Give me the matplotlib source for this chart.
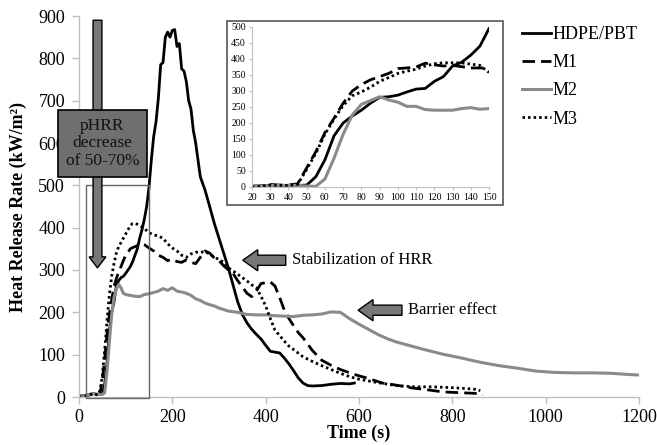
import matplotlib
matplotlib.use("Agg")
import matplotlib.pyplot as plt
import matplotlib.patches as mpatches
from matplotlib.lines import Line2D

plt.rcParams['font.family'] = ['Liberation Serif', 'DejaVu Serif']

# ---------------- main data ----------------
t_hdpe = [0, 10, 20, 30, 40, 50, 55, 60, 65, 70, 75, 80, 85, 90, 95, 100, 105, 110, 115, 120,
          125, 130, 135, 140, 145, 150, 155, 160, 165, 170, 175, 180, 185, 190, 195, 200, 205,
          210, 215, 220, 225, 230, 235, 240, 245, 250, 255, 260, 270, 280, 290, 300, 310, 320,
          330, 340, 350, 360, 370, 380, 390, 400, 410, 420, 430, 440, 450, 460, 470, 480, 490,
          500, 520, 540, 560, 580, 590]
hrr_hdpe = [2, 3, 4, 8, 6, 8, 30, 80, 155, 200, 225, 262, 275, 282, 285, 292, 300, 308, 320, 335,
            350, 375, 395, 420, 450, 495, 560, 615, 650, 705, 785, 790, 850, 862, 850, 866, 868,
            828, 835, 775, 770, 745, 700, 680, 630, 600, 560, 520, 489, 450, 410, 375, 340, 305,
            265, 225, 195, 175, 160, 148, 137, 122, 108, 106, 104, 92, 78, 62, 45, 33, 27,
            26, 27, 30, 32, 31, 33]

t_m1 = [0, 10, 20, 30, 40, 45, 50, 55, 60, 65, 70, 75, 80, 85, 90, 95, 100, 105, 110, 115, 120,
        125, 130, 135, 140, 150, 160, 170, 180, 190, 200, 210, 220, 230, 240, 250, 260, 270, 280,
        290, 300, 310, 320, 330, 340, 350, 360, 370, 380, 390, 400, 410, 420, 430, 440, 450, 460,
        470, 480, 490, 500, 520, 540, 560, 580, 600, 620, 650, 680, 710, 740, 780, 820, 860, 865]
hrr_m1 = [2, 3, 5, 8, 6, 8, 40, 90, 150, 195, 230, 260, 280, 295, 308, 322, 335, 342, 350, 353, 355,
          358, 362, 362, 360, 352, 345, 335, 330, 322, 326, 320, 318, 324, 318, 315, 330, 345, 340,
          328, 322, 310, 300, 292, 275, 260, 245, 237, 250, 268, 270, 272, 262, 235, 205, 185, 168,
          152, 140, 125, 110, 87, 75, 65, 57, 50, 44, 33, 28, 22, 18, 12, 10, 8, 5]

t_m2 = [0, 10, 20, 30, 40, 50, 55, 60, 65, 70, 75, 80, 85, 90, 95, 100, 110, 120, 130, 140, 150,
        160, 170, 180, 190, 200, 210, 220, 230, 240, 250, 260, 270, 280, 290, 300, 320, 340, 360,
        380, 400, 420, 440, 460, 480, 500, 520, 540, 560, 580, 600, 620, 640, 660, 680, 700, 740,
        780, 820, 860, 900, 940, 980, 1020, 1060, 1100, 1140, 1180, 1200]
hrr_m2 = [2, 3, 5, 8, 6, 6, 10, 60, 130, 195, 235, 255, 266, 258, 245, 242, 240, 238, 237, 242, 244,
          247, 250, 256, 252, 258, 250, 248, 245, 240, 232, 228, 222, 218, 215, 210, 203, 200, 195,
          194, 194, 192, 191, 190, 193, 194, 196, 201, 200, 185, 172, 160, 148, 138, 130, 124, 112,
          101, 92, 82, 74, 68, 61, 58, 57, 57, 56, 53, 52]

t_m3 = [0, 10, 20, 30, 40, 45, 50, 55, 60, 65, 70, 75, 80, 85, 90, 95, 100, 105, 110, 115, 120,
        125, 130, 140, 150, 160, 170, 180, 190, 200, 210, 220, 230, 240, 250, 260, 270, 280, 290,
        300, 310, 320, 330, 340, 350, 360, 370, 380, 390, 400, 410, 420, 430, 440, 450, 460, 480,
        500, 520, 540, 560, 580, 600, 640, 680, 720, 760, 800, 830, 850, 860]
hrr_m3 = [0, 2, 4, 8, 5, 15, 50, 110, 180, 240, 285, 315, 340, 355, 365, 375, 385, 395, 405, 410, 410,
          408, 405, 398, 388, 383, 380, 375, 362, 352, 345, 335, 330, 338, 342, 342, 343, 338, 330,
          325, 318, 305, 298, 290, 282, 274, 265, 258, 238, 215, 185, 158, 145, 132, 120, 112, 95,
          84, 74, 65, 56, 48, 42, 34, 27, 24, 24, 22, 20, 18, 15]

# ---------------- inset data ----------------
t_in = [20, 25, 30, 35, 40, 45, 50, 55, 60, 65, 70, 75, 80, 85, 90, 95, 100, 105, 110, 115, 120,
        125, 130, 135, 140, 145, 150]
hdpe_in = [3, 3, 6, 5, 5, 5, 6, 32, 85, 160, 200, 222, 240, 262, 280, 282, 287, 297, 306, 308, 330,
           345, 378, 390, 412, 440, 495]
m1_in = [2, 3, 8, 6, 6, 10, 60, 110, 170, 215, 262, 300, 320, 335, 345, 355, 370, 372, 375, 387, 382,
         378, 380, 376, 372, 372, 372]
m2_in = [2, 2, 5, 5, 5, 5, 3, 2, 25, 90, 165, 225, 258, 270, 282, 272, 265, 252, 252, 242, 240,
         240, 240, 245, 248, 243, 245]
m3_in = [0, 2, 6, 5, 5, 8, 55, 105, 165, 212, 255, 285, 297, 312, 330, 342, 355, 362, 368, 378, 385,
         388, 388, 388, 384, 380, 358]

labels = ['HDPE/PBT', 'M1', 'M2', 'M3']
x_ticks = [0, 200, 400, 600, 800, 1000, 1200]
y_ticks = [0, 100, 200, 300, 400, 500, 600, 700, 800, 900]
xin_ticks = [20, 30, 40, 50, 60, 70, 80, 90, 100, 110, 120, 130, 140, 150]
yin_ticks = [0, 50, 100, 150, 200, 250, 300, 350, 400, 450, 500]

GRAY = '#8a8a8a'
SPINE = '#bfbfbf'
ARROW = '#777777'

styles = [
    dict(color='black', lw=2.0, ls='-'),
    dict(color='black', lw=2.0, ls=(0, (4.5, 2.2))),
    dict(color=GRAY, lw=2.2, ls='-'),
    dict(color='black', lw=2.0, ls=(0, (0.9, 1.1))),
]

W, H = 657, 445
fig = plt.figure(figsize=(W / 100, H / 100), dpi=100)
ax = fig.add_axes([79 / W, 1 - 397 / H, (639 - 79) / W, (397 - 16) / H])

series = [(t_hdpe, hrr_hdpe), (t_m1, hrr_m1), (t_m2, hrr_m2), (t_m3, hrr_m3)]
for (t, h), st in zip(series, styles):
    ax.plot(t, h, color=st['color'], lw=st['lw'], ls=st['ls'], solid_joinstyle='round')

ax.set_xlim(0, 1200)
ax.set_ylim(0, 900)
ax.set_xticks(x_ticks)
ax.set_yticks(y_ticks)
ax.tick_params(axis='both', labelsize=13, color=SPINE, length=5, width=1)
ax.tick_params(axis='x', pad=4)
ax.tick_params(axis='y', pad=5)
for s in ['top', 'right']:
    ax.spines[s].set_visible(False)
for s in ['left', 'bottom']:
    ax.spines[s].set_color(SPINE)
    ax.spines[s].set_linewidth(1)
ax.set_xlabel('Time (s)', fontsize=13, fontweight='bold', labelpad=-1)
ax.set_ylabel('Heat Release Rate (kW/m²)', fontsize=13, fontweight='bold', labelpad=8)

# highlight rectangle
ax.add_patch(mpatches.Rectangle((15, -3), 135, 503, fill=False, ec='#666666', lw=1.0,
                                clip_on=False, zorder=3))

# pHRR vertical arrow
ax.add_patch(mpatches.FancyArrow(39.6, 890, 0, -585, width=19, head_width=36, head_length=26,
                                 length_includes_head=True, fc=ARROW, ec='black', lw=1.0,
                                 clip_on=False, zorder=4))
ax.add_patch(mpatches.Rectangle((-45, 520), 190, 158, fc='#6f6f6f', ec='black', lw=1.2,
                                clip_on=False, zorder=5))
ax.text(50, 599, 'pHRR\ndecrease\nof 50-70%', ha='center', va='center', fontsize=12.5,
        color='#111111', linespacing=1.15, zorder=6)

# horizontal arrows
ax.add_patch(mpatches.FancyArrow(443, 323, -92, 0, width=24, head_width=50, head_length=32,
                                 length_includes_head=True, fc=ARROW, ec='black', lw=1.0, zorder=4))
ax.text(456, 323, 'Stabilization of HRR', ha='left', va='center', fontsize=12)
ax.add_patch(mpatches.FancyArrow(692, 205, -94, 0, width=24, head_width=50, head_length=32,
                                 length_includes_head=True, fc=ARROW, ec='black', lw=1.0, zorder=4))
ax.text(706, 205, 'Barrier effect', ha='left', va='center', fontsize=12)

# inset frame
fig.add_artist(mpatches.Rectangle((227 / W, 1 - 205 / H), 276 / W, 184 / H, transform=fig.transFigure,
                                  fill=True, fc='white', ec='#555555', lw=1.2, zorder=8))
axi = fig.add_axes([252 / W, 1 - 187 / H, (489 - 252) / W, (187 - 27) / H], zorder=9)
series_in = [hdpe_in, m1_in, m2_in, m3_in]
for h, st in zip(series_in, styles):
    axi.plot(t_in, h, color=st['color'], lw=st['lw'], ls=st['ls'])
axi.set_xlim(20, 150)
axi.set_ylim(0, 500)
axi.set_xticks(xin_ticks)
axi.set_yticks(yin_ticks)
axi.tick_params(axis='both', labelsize=7, color=SPINE, length=2.5, width=0.8, pad=2)
for s in ['top', 'right']:
    axi.spines[s].set_visible(False)
for s in ['left', 'bottom']:
    axi.spines[s].set_color(SPINE)
axi.patch.set_alpha(0)

# legend
handles = [Line2D([0], [0], color=st['color'], lw=st['lw'], ls=st['ls']) for st in styles]
fig.legend(handles, labels, loc='upper left', bbox_to_anchor=(522 / W, 1 - 26 / H),
           frameon=False, fontsize=13, handlelength=1.6, handletextpad=0.1, labelspacing=0.62,
           borderaxespad=0, borderpad=0)

fig.savefig('out.png', dpi=100)
